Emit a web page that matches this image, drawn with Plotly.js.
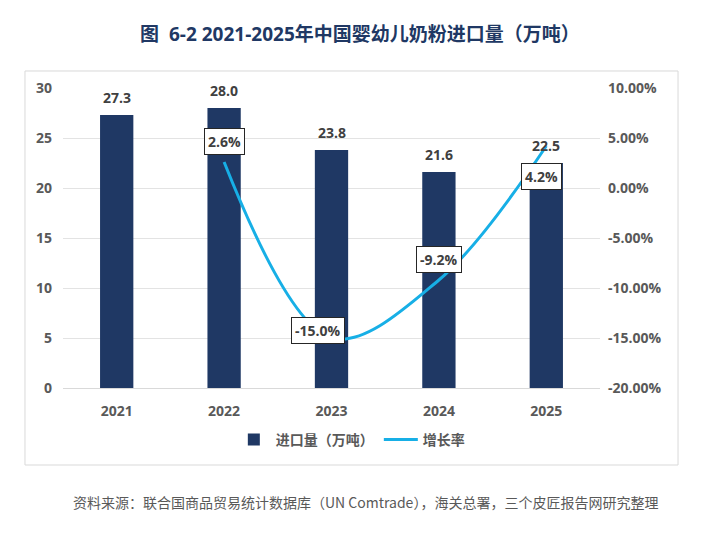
<!DOCTYPE html>
<html>
<head>
<meta charset="utf-8">
<script src="https://cdn.plot.ly/plotly-3.0.1.min.js"></script>
<style>
html,body{margin:0;padding:0;background:#fff;}
#chart{width:703px;height:539px;}
</style>
</head>
<body>
<div id="chart"></div>
<script>
const years = ['2021', '2022', '2023', '2024', '2025'];
const importVolume = [27.3, 28.0, 23.8, 21.6, 22.5];
const growthYears = ['2022', '2023', '2024', '2025'];
const growthRate = [2.6, -15.0, -9.2, 4.2];
const growthLabels = ['2.6%', '-15.0%', '-9.2%', '4.2%'];
const leftTicks = [0, 5, 10, 15, 20, 25, 30];
const rightTicks = [-20, -15, -10, -5, 0, 5, 10];

const FONT = '"Open Sans", "Noto Sans CJK SC", sans-serif';
const CJK = '"Noto Sans CJK SC", "Open Sans", sans-serif';
const NAVY = '#1f3864';
const CYAN = '#17afe6';

const traces = [
  {
    type: 'bar',
    name: '进口量（万吨）',
    x: years,
    y: importVolume,
    width: 0.31,
    marker: {color: NAVY},
    hoverinfo: 'none'
  },
  {
    type: 'scatter',
    mode: 'lines',
    name: '增长率',
    x: growthYears,
    y: growthRate,
    yaxis: 'y2',
    line: {color: CYAN, width: 3, shape: 'spline', smoothing: 1},
    hoverinfo: 'none'
  }
];

const annotations = [];
years.forEach((yr, i) => {
  annotations.push({
    xref: 'x', yref: 'y', x: years.indexOf(yr), y: importVolume[i],
    text: importVolume[i].toFixed(1),
    showarrow: false, yanchor: 'middle', yshift: 18,
    font: {family: FONT, size: 14, color: '#404040', weight: 'bold'}
  });
});
const shifts = [[0, 21], [-14, 8], [0, 21], [-5, -30]];
growthYears.forEach((yr, i) => {
  annotations.push({
    xref: 'x', yref: 'y2', x: years.indexOf(yr), y: growthRate[i],
    text: growthLabels[i],
    showarrow: false, xshift: shifts[i][0], yshift: shifts[i][1],
    bgcolor: '#ffffff', bordercolor: '#262626', borderwidth: 1, borderpad: 3,
    font: {family: FONT, size: 14, color: '#404040', weight: 'bold'}
  });
});
annotations.push({
  xref: 'paper', yref: 'paper', x: 0.564, y: -0.38,
  text: '资料来源：联合国商品贸易统计数据库（UN Comtrade），海关总署，三个皮匠报告网研究整理',
  showarrow: false, xanchor: 'center', yanchor: 'middle',
  font: {family: CJK, size: 14, color: '#595959'}
});

const layout = {
  width: 703, height: 539,
  margin: {l: 63, r: 103, t: 88, b: 151},
  paper_bgcolor: '#ffffff', plot_bgcolor: '#ffffff',
  font: {family: FONT, color: '#595959'},
  showlegend: true,
  title: {
    text: '图  6-2 2021-2025年中国婴幼儿奶粉进口量（万吨）',
    x: 0.512, xanchor: 'center', y: 0.937, yanchor: 'middle',
    font: {family: FONT, size: 19, color: '#203864', weight: 'bold'}
  },
  xaxis: {
    type: 'category', range: [-0.5, 4.5],
    showgrid: false, showline: true, linecolor: '#d9d9d9', linewidth: 1,
    ticks: '', ticklabelstandoff: 10,
    tickfont: {family: FONT, size: 14, color: '#595959', weight: 'bold'}
  },
  yaxis: {
    range: [0, 30], tickvals: leftTicks,
    showgrid: true, gridcolor: '#e3e3e3', gridwidth: 1,
    zeroline: false, showline: false, ticks: '', ticklabelstandoff: 10,
    tickfont: {family: FONT, size: 14, color: '#595959', weight: 'bold'}
  },
  yaxis2: {
    range: [-20, 10], tickvals: rightTicks,
    ticktext: rightTicks.map(v => v.toFixed(2) + '%'),
    overlaying: 'y', side: 'right',
    showgrid: false, zeroline: false, showline: false, ticks: '', ticklabelstandoff: 7,
    tickfont: {family: FONT, size: 14, color: '#595959', weight: 'bold'}
  },
  legend: {
    orientation: 'h', x: 0.536, xanchor: 'center', y: -0.173, yanchor: 'middle',
    font: {family: CJK, size: 14, color: '#595959', weight: 'bold'},
    bgcolor: 'rgba(0,0,0,0)', itemwidth: 34, traceorder: 'normal'
  },
  shapes: [{
    type: 'rect', xref: 'paper', yref: 'paper',
    x0: -0.0708, x1: 1.1453, y0: -0.2567, y1: 1.0567,
    line: {color: '#d9d9d9', width: 1}, fillcolor: 'rgba(0,0,0,0)', layer: 'below'
  }],
  annotations: annotations,
  bargap: 0.5
};

Plotly.newPlot('chart', traces, layout, {displayModeBar: false, staticPlot: true});
</script>
</body>
</html>
